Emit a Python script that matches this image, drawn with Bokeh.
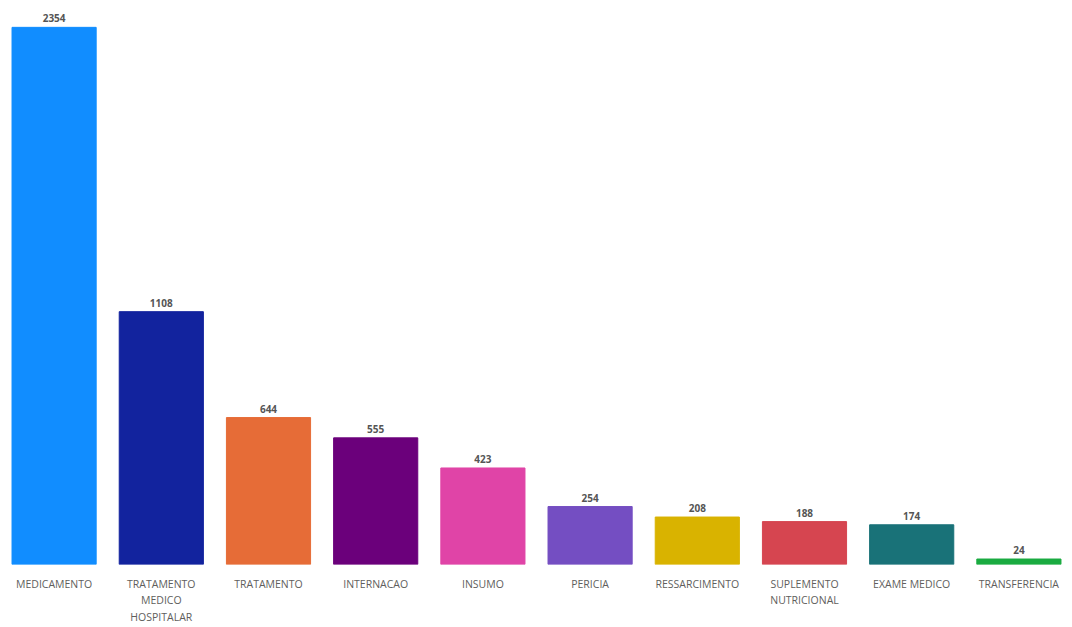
from bokeh.plotting import figure
from bokeh.models import ColumnDataSource, FactorRange, Range1d
from bokeh.core.properties import value
from bokeh.embed import file_html
from bokeh.resources import INLINE

categories = ["MEDICAMENTO", "TRATAMENTO\nMEDICO\nHOSPITALAR", "TRATAMENTO", "INTERNACAO",
              "INSUMO", "PERICIA", "RESSARCIMENTO", "SUPLEMENTO\nNUTRICIONAL",
              "EXAME MEDICO", "TRANSFERENCIA"]
counts = [2354, 1108, 644, 555, 423, 254, 208, 188, 174, 24]
colors = ["#118DFF", "#12239E", "#E66C37", "#6B007B", "#E044A7",
          "#744EC2", "#D9B300", "#D64550", "#197278", "#1AAB40"]

src = ColumnDataSource(dict(cat=categories, val=counts, col=colors,
                            lab=[str(v) for v in counts]))

p = figure(x_range=FactorRange(*categories, range_padding=0.0),
           y_range=Range1d(0, max(counts) * 1.05),
           width=1072, height=627, output_backend="svg", toolbar_location=None,
           min_border_left=0, min_border_right=0, min_border_top=0, min_border_bottom=0)
p.x_range.factor_padding = 0.0
p.vbar(x="cat", top="val", width=0.785, color="col", source=src)
p.text(x="cat", y="val", text="lab", source=src, y_offset=-5,
       text_align="center", text_baseline="bottom",
       text_font=value("Open Sans"), text_font_size="10px", text_font_style="bold",
       text_color="#555555")

p.yaxis.visible = False
p.xaxis.axis_line_color = None
p.xaxis.major_tick_line_color = None
p.xaxis.minor_tick_line_color = None
p.xaxis.major_label_standoff = 6
p.xaxis.major_label_text_font = "Open Sans"
p.xaxis.major_label_text_font_size = "10.5px"
p.xaxis.major_label_text_color = "#605E5C"
p.xgrid.visible = False
p.ygrid.visible = False
p.outline_line_color = None
p.min_border_bottom = 58

open("out.html", "w").write(file_html(p, INLINE))
